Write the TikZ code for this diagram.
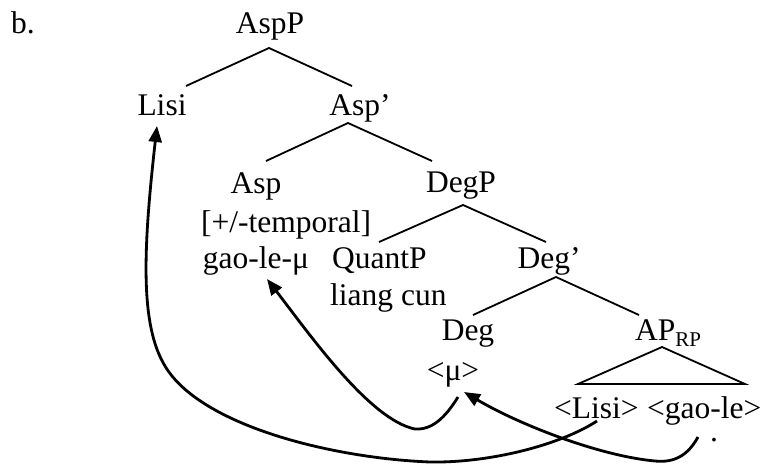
\documentclass[tikz,border=0pt]{standalone}
\usepackage{fontspec}
\setmainfont{Liberation Serif}
\usetikzlibrary{arrows.meta}
\begin{document}
\begin{tikzpicture}[x=1pt,y=-1pt,
  lbl/.style={inner sep=0pt,anchor=base,font=\fontsize{31.5}{37}\selectfont},
  lbll/.style={lbl,anchor=base west},
  branch/.style={line width=1.8pt},
  mv/.style={line width=2.8pt,-{Triangle[length=16pt,width=13pt]}}]
\useasboundingbox (0,0) rectangle (765,464);
% labels
\node[lbll] (b) at (11,33) {b.};
\node[lbl] (AspP) at (270,33) {AspP};
\node[lbl] (Lisi) at (162,115) {Lisi};
\node[lbl] (Aspbar) at (360,115) {Asp’};
\node[lbl] (Asp) at (256,193) {Asp};
\node[lbl] (DegP) at (461,192) {DegP};
\node[lbl] (temp) at (286,232) {[+/-temporal]};
\node[lbl] (gaolemu) at (256,268) {gao-le-μ};
\node[lbll] (QuantP) at (332,268) {QuantP};
\node[lbll] (liang) at (330,305) {liang cun};
\node[lbl] (Degbar) at (549,268) {Deg’};
\node[lbl] (Deg) at (468,340) {Deg};
\node[lbll] (AP) at (635,340) {AP\raisebox{-0.22em}{\fontsize{21}{21}\selectfont RP}};
\node[lbl] (mu) at (453,380) {<μ>};
\node[lbll] (lisiT) at (554,418) {<Lisi>};
\node[lbll] (gaoleT) at (647,418) {<gao-le>};
\node[lbll] (dot) at (710,441) {.};
% tree branch points
\coordinate (AspPb) at (269,48);
\coordinate (Lisit) at (186,86);
\coordinate (Aspbart) at (352,86);
\coordinate (Aspbarb) at (348,123);
\coordinate (Aspt) at (266,161);
\coordinate (DegPt) at (432,161);
\coordinate (DegPb) at (463,205);
\coordinate (QuantPt) at (379,242);
\coordinate (Degbart) at (546,242);
\coordinate (Degbarb) at (556,277);
\coordinate (Degt) at (473,315);
\coordinate (APt) at (639,315);
\coordinate (APb) at (662,347);
\coordinate (triL) at (578,384);
\coordinate (triR) at (745,384);
\draw[branch] (Lisit) -- (AspPb) -- (Aspbart);
\draw[branch] (Aspt) -- (Aspbarb) -- (DegPt);
\draw[branch] (QuantPt) -- (DegPb) -- (Degbart);
\draw[branch] (Degt) -- (Degbarb) -- (APt);
\draw[branch,line join=miter] (APb) -- (triL) -- (triR) -- cycle;
% movement arrows
\coordinate (muS) at (458,397);
\coordinate (gaolemuE) at (267,279);
\coordinate (gaoleS) at (698,437);
\coordinate (muE) at (464,392);
\coordinate (lisiS) at (597,421);
\coordinate (LisiE) at (157,126);
\draw[mv] (muS) .. controls (445,418) and (432,430) .. (415,429)
  .. controls (370,420) and (310,335) .. (gaolemuE);
\draw[mv] (gaoleS) .. controls (688,455) and (675,463) .. (655,461)
  .. controls (600,456) and (520,425) .. (muE);
\draw[mv] (lisiS) .. controls (560,445) and (490,463) .. (430,462)
  .. controls (330,458) and (200,425) .. (165,366)
  .. controls (140,325) and (143,250) .. (LisiE);
\end{tikzpicture}
\end{document}
